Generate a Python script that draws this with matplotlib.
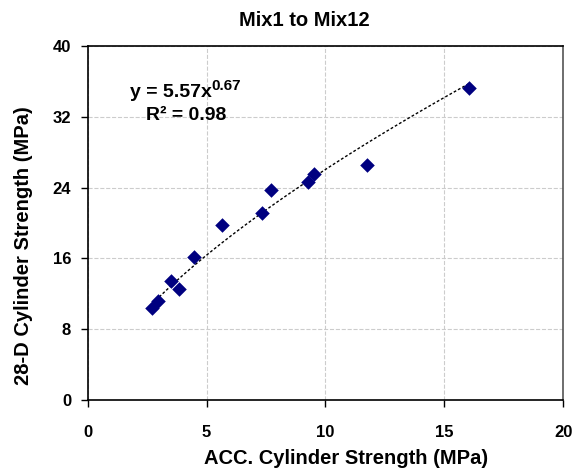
import numpy as np
import matplotlib
matplotlib.use("Agg")
import matplotlib.pyplot as plt

plt.rcParams['font.family'] = ['Liberation Sans', 'DejaVu Sans']
plt.rcParams['font.weight'] = 'bold'

# data
acc = [2.71, 2.94, 3.52, 3.82, 4.48, 5.64, 7.34, 7.69, 9.27, 9.51, 11.73, 16.05]
d28 = [10.4, 11.2, 13.4, 12.5, 16.2, 19.8, 21.1, 23.7, 24.6, 25.5, 26.6, 35.3]
coef_a = 5.57
coef_b = 0.67
xticks = [0, 5, 10, 15, 20]
yticks = [0, 8, 16, 24, 32, 40]

fig = plt.figure(figsize=(5.74, 4.70), dpi=100)
ax = fig.add_axes([0.153, 0.149, 0.828, 0.753])

# power trendline
xf = np.linspace(min(acc), max(acc), 100)
ax.plot(xf, coef_a * xf ** coef_b, color='black', linestyle=(0, (2, 1.5)), lw=1, zorder=2)
ax.scatter(acc, d28, marker='D', s=55, color='#000080', zorder=3, linewidths=0)

ax.set_xlim(0, 20)
ax.set_ylim(0, 40)
ax.set_xticks(xticks)
ax.set_yticks(yticks)
ax.grid(True, color='#cccccc', linestyle='--', lw=0.8)
ax.set_axisbelow(True)
ax.tick_params(direction='out', length=5, width=1, labelsize=12)
ax.tick_params(axis='x', pad=13)
ax.tick_params(axis='y', pad=7)
for s in ax.spines.values():
    s.set_linewidth(1.2)
ax.spines['right'].set_color('#555555')

ax.set_xlabel('ACC. Cylinder Strength (MPa)', fontsize=14.5, fontweight='bold', va='center')
ax.xaxis.set_label_coords(346 / 574, 1 - 458 / 470, transform=fig.transFigure)
ax.set_ylabel('28-D Cylinder Strength (MPa)', fontsize=14.5, fontweight='bold', va='center')
ax.yaxis.set_label_coords(24 / 574, 1 - 246 / 470, transform=fig.transFigure)
fig.text(304 / 574, 1 - 20 / 470, 'Mix1 to Mix12', ha='center', va='center', fontsize=14.5, fontweight='bold')

t1 = ax.text(1.77, 34.2, 'y = 5.57x', fontsize=14, fontweight='bold')
ax.annotate('0.67', xy=(1, 0.5), xycoords=t1, fontsize=11, fontweight='bold', va='bottom')
ax.text(2.45, 31.6, 'R² = 0.98', fontsize=14, fontweight='bold')

fig.savefig('out.png', dpi=100)
